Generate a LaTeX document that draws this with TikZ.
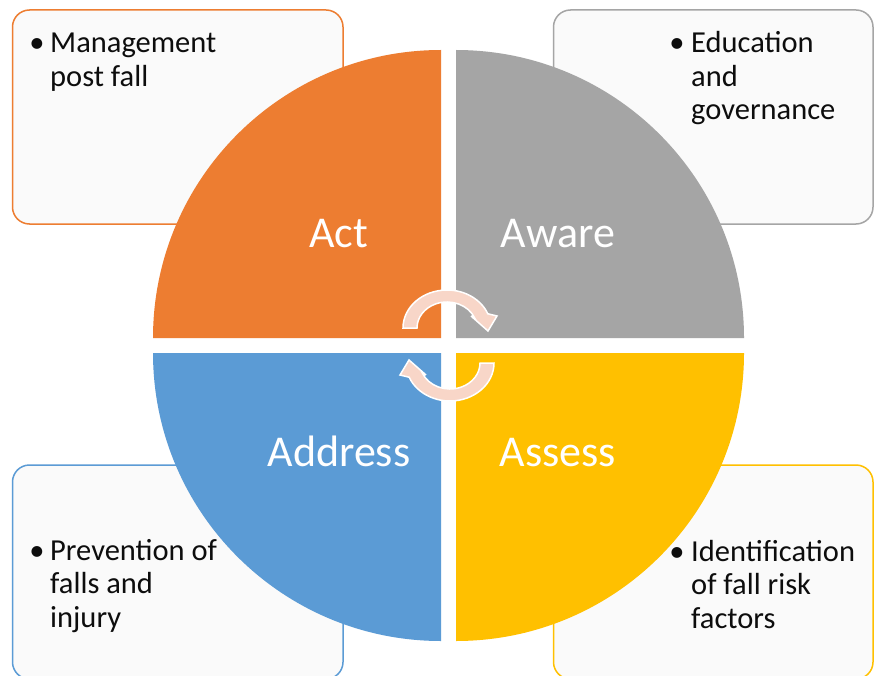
\documentclass[tikz,border=0pt]{standalone}
\usepackage{fontspec}
\setmainfont{Carlito}
\definecolor{cOrange}{HTML}{ED7D31}
\definecolor{cGray}{HTML}{A5A5A5}
\definecolor{cYellow}{HTML}{FFC000}
\definecolor{cBlue}{HTML}{5B9BD5}
\definecolor{boxfill}{HTML}{FAFAFA}
\definecolor{arrowpink}{RGB}{248,214,200}
\definecolor{txt}{HTML}{0D0D0D}
\tikzset{
  infobox/.style={line width=1.5pt, fill=boxfill, rounded corners=17pt},
  biglabel/.style={text=white, font={\fontsize{44}{50}\selectfont}, inner sep=0pt, anchor=base},
  bullettext/.style={text=txt, font={\fontsize{30.5}{33.5}\selectfont}, inner sep=0pt, anchor=base west, align=left},
  bulletdot/.style={text=txt, font={\fontsize{30.5}{33.5}\selectfont}, inner sep=0pt, anchor=base},
  cyclearrow/.style={fill=arrowpink, draw=white, line width=1.5pt, line join=miter}
}
\begin{document}
\begin{tikzpicture}[x=1pt,y=-1pt]
\useasboundingbox (0,0) rectangle (874,676);
\fill[white] (0,0) rectangle (874,676);
% info boxes
\draw[infobox, draw=cOrange] (12.5,10) rectangle (343,224);
\draw[infobox, draw=cGray] (553.5,10) rectangle (873,224);
\draw[infobox, draw=cBlue] (12.5,465) rectangle (343,679);
\draw[infobox, draw=cYellow] (553.5,465) rectangle (873,679);
% quadrants
\fill[cOrange] (441,338) -- (153,338) arc[start angle=180, end angle=270, radius=288] -- cycle;
\fill[cGray] (456,338) -- (456,50) arc[start angle=270, end angle=360, radius=288] -- cycle;
\fill[cYellow] (456,353) -- (744,353) arc[start angle=0, end angle=90, radius=288] -- cycle;
\fill[cBlue] (441,353) -- (441,641) arc[start angle=90, end angle=180, radius=288] -- cycle;
% labels
\node[biglabel] (act) at (338.5,247) {Act};
\node[biglabel] (aware) at (558,247) {Aware};
\node[biglabel] (address) at (339,466) {Address};
\node[biglabel] (assess) at (558,466) {Assess};
% cycle arrows
\begin{scope}[shift={(447,328)}]
\draw[cyclearrow] (180:44 and 38) arc[start angle=180, end angle=338, x radius=44, y radius=38]
  -- (50,-12) -- (41,3) -- (24,-12) -- (338:30 and 26)
  arc[start angle=338, end angle=180, x radius=30, y radius=26] -- cycle;
\end{scope}
\begin{scope}[shift={(450,363)}, rotate=180]
\draw[cyclearrow] (180:44 and 38) arc[start angle=180, end angle=338, x radius=44, y radius=38]
  -- (50,-12) -- (41,3) -- (24,-12) -- (338:30 and 26)
  arc[start angle=338, end angle=180, x radius=30, y radius=26] -- cycle;
\end{scope}
% box texts (node base = baseline of last line)
\node[bulletdot] (b1) at (37,53) {•};
\node[bullettext] (t1) at (50,86.5) {Management\\post fall};
\node[bulletdot] (b2) at (677,53) {•};
\node[bullettext] (t2) at (691,120) {Education\\and\\governance};
\node[bulletdot] (b3) at (37,560) {•};
\node[bullettext] (t3) at (50,627) {Prevention of\\falls and\\injury};
\node[bulletdot] (b4) at (677,561) {•};
\node[bullettext] (t4) at (691,628) {Identification\\of fall risk\\factors};
\end{tikzpicture}
\end{document}
